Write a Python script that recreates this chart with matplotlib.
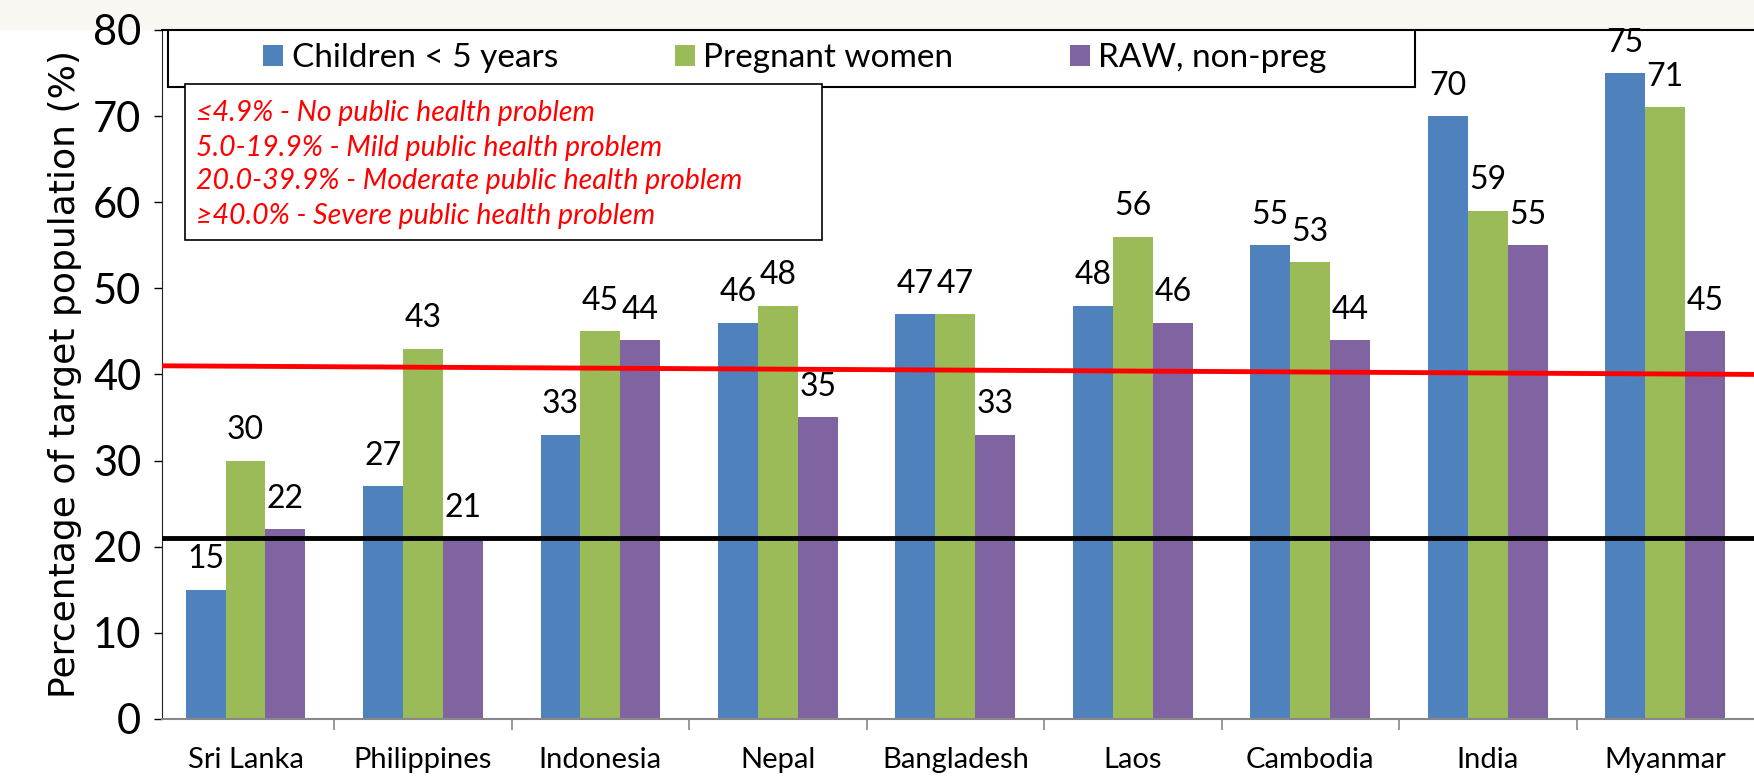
import matplotlib
matplotlib.use("Agg")
import matplotlib.pyplot as plt
from matplotlib.patches import Rectangle
import numpy as np

# data
countries = ["Sri Lanka", "Philippines", "Indonesia", "Nepal", "Bangladesh",
             "Laos", "Cambodia", "India", "Myanmar"]
children = [15, 27, 33, 46, 47, 48, 55, 70, 75]
pregnant = [30, 43, 45, 48, 47, 56, 53, 59, 71]
raw_nonpreg = [22, 21, 44, 35, 33, 46, 44, 55, 45]
series_names = ["Children < 5 years", "Pregnant women", "RAW, non-preg"]
severe_line = [41, 40]      # red line, left end -> right end
black_line = [21, 21]
notes = ["\u22644.9% - No public health problem",
         "5.0-19.9% - Mild public health problem",
         "20.0-39.9% - Moderate public health problem",
         "\u226540.0% - Severe public health problem"]

colors = ["#4F81BD", "#9BBB59", "#8064A2"]
FONT = ["Lato", "DejaVu Sans"]
plt.rcParams["font.family"] = FONT

fig = plt.figure(figsize=(17.54, 7.76), dpi=100)
# faint beige strip at the top, like the slide background
fig.patches.append(Rectangle((0, 0.961), 1, 0.039, transform=fig.transFigure,
                             facecolor="#f9f7f2", edgecolor="none", zorder=-5))
ax = fig.add_axes([0.0924, 0.0735, 0.9076, 0.888])

x = np.arange(len(countries))
w = 0.225
for i, (vals, c, name) in enumerate(zip([children, pregnant, raw_nonpreg], colors, series_names)):
    bars = ax.bar(x + (i - 1) * w, vals, w, color=c, label=name, zorder=2)
    for b, v in zip(bars, vals):
        ax.annotate(str(v), (b.get_x() + b.get_width() / 2, v), xytext=(0, 11),
                    textcoords="offset points", ha="center", va="bottom",
                    fontsize=23, zorder=5)

xmin, xmax = -0.47, 8.5
ax.plot([xmin, xmax], severe_line, color="#FF0000", lw=3.5, zorder=3)
ax.plot([xmin, xmax], black_line, color="black", lw=3.5, zorder=3)

ax.set_xlim(xmin, xmax)
ax.set_ylim(0, 80)
ax.set_yticks(range(0, 81, 10))
ax.tick_params(axis="y", direction="out", length=6, width=1, labelsize=30, pad=9)

# category boundaries as ticks, names centred
ax.set_xticks(np.arange(0.5, 8, 1))
ax.set_xticklabels([])
ax.tick_params(axis="x", which="major", direction="out", length=8, width=1.2, color="#888888")
ax.set_xticks(x, minor=True)
ax.set_xticklabels(countries, minor=True, fontsize=21)
ax.tick_params(axis="x", which="minor", length=0, pad=20)

ax.spines["right"].set_visible(False)
ax.spines["bottom"].set_color("#888888")
ax.spines["bottom"].set_linewidth(1.5)
ax.spines["left"].set_color("#222222")
ax.spines["top"].set_color("black")
ax.spines["top"].set_linewidth(1.5)

ax.set_ylabel("Percentage of target population (%)", fontsize=26,
              family="DejaVu Sans", labelpad=8)

# legend box
ax.add_patch(Rectangle((0.004, 0.917), 0.783, 0.083, transform=ax.transAxes,
                       facecolor="white", edgecolor="black", lw=1.5, zorder=6))
ax.legend(loc="center", bbox_to_anchor=(0.3975, 0.9585), ncol=3, frameon=False,
          fontsize=24, handlelength=0.6, handleheight=0.6, handletextpad=0.25,
          columnspacing=3.5).set_zorder(7)

# thresholds box
ax.add_patch(Rectangle((0.0144, 0.695), 0.4002, 0.2266, transform=ax.transAxes,
                       facecolor="white", edgecolor="black", lw=1.2, zorder=6))
for t, yy in zip(notes, [0.8796, 0.8287, 0.7808, 0.7300]):
    ax.text(0.0214, yy, t, transform=ax.transAxes, color="#FF0000",
            fontsize=20.5, style="italic", va="center", ha="left", zorder=7)

fig.savefig("out.png", dpi=100, facecolor="white")
